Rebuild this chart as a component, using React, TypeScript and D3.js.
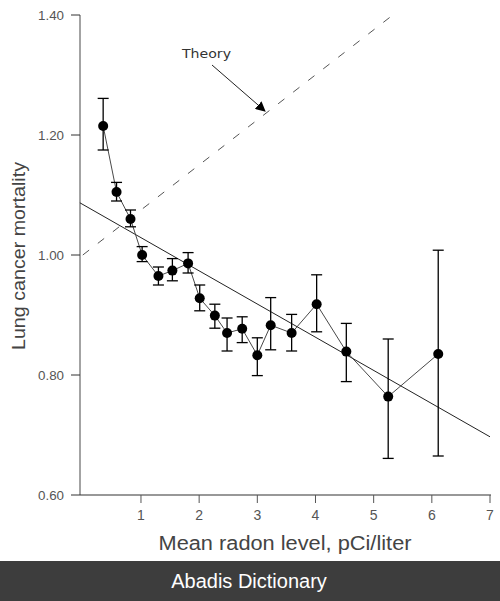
import React from "react";
import * as d3 from "d3";

const radon = [0.35, 0.58, 0.82, 1.02, 1.3, 1.54, 1.81, 2.01, 2.27, 2.48, 2.74, 3.0, 3.23, 3.59, 4.02, 4.53, 5.25, 6.11];
const mortality = [1.215, 1.105, 1.06, 1.0, 0.965, 0.974, 0.986, 0.928, 0.899, 0.87, 0.877, 0.833, 0.883, 0.87, 0.918, 0.839, 0.764, 0.835];
const errHigh = [1.261, 1.121, 1.075, 1.014, 0.98, 0.994, 1.004, 0.95, 0.918, 0.895, 0.897, 0.862, 0.929, 0.901, 0.967, 0.886, 0.86, 1.008];
const errLow = [1.175, 1.09, 1.047, 0.989, 0.95, 0.957, 0.97, 0.907, 0.878, 0.84, 0.854, 0.799, 0.842, 0.84, 0.872, 0.789, 0.661, 0.665];
const fitLine = [{ x: -0.05, y: 1.087 }, { x: 7.0, y: 0.697 }];
const theoryLine = [{ x: 0, y: 1.0 }, { x: 5.33, y: 1.4 }];
const yTicks = [0.6, 0.8, 1.0, 1.2, 1.4];
const xTicks = [1, 2, 3, 4, 5, 6, 7];

export default function App() {
  const x = d3.scaleLinear().domain([0, 7]).range([82.8, 490]);
  const y = d3.scaleLinear().domain([0.6, 1.4]).range([495, 15]);
  const line = d3.line<{ x: number; y: number }>().x(d => x(d.x)).y(d => y(d.y));
  const pts = radon.map((r, i) => ({ x: r, y: mortality[i] }));
  const font = "'Liberation Sans', Arial, sans-serif";
  return (
    <div style={{ position: "absolute", left: 0, top: 0, width: 500, height: 601 }}>
      <svg width={500} height={601} style={{ display: "block", background: "#fff" }}>
        <defs>
          <marker id="arr" viewBox="0 0 10 10" refX="9" refY="5" markerWidth="10" markerHeight="10" orient="auto" markerUnits="userSpaceOnUse">
            <path d="M0,0 L10,5 L0,10 z" fill="#000" />
          </marker>
        </defs>
        {/* axes */}
        <line x1={80} x2={80} y1={15} y2={495} stroke="#666" strokeWidth={1.2} />
        <line x1={80} x2={491} y1={495} y2={495} stroke="#333" strokeWidth={1.2} />
        {yTicks.map(t => (
          <g key={t}>
            <line x1={71} x2={80} y1={y(t)} y2={y(t)} stroke="#333" />
            <text x={64} y={y(t) + 5} textAnchor="end" fontFamily={font} fontSize={13} fill="#555" textLength={26} lengthAdjust="spacingAndGlyphs">{t.toFixed(2)}</text>
          </g>
        ))}
        {xTicks.map(t => (
          <g key={t}>
            <line x1={x(t)} x2={x(t)} y1={495} y2={503} stroke="#555" />
            <text x={x(t)} y={520} textAnchor="middle" fontFamily={font} fontSize={14} fill="#555">{t}</text>
          </g>
        ))}
        <text x={285} y={550} textAnchor="middle" fontFamily={font} fontSize={20} fill="#444" textLength={253} lengthAdjust="spacingAndGlyphs">Mean radon level, pCi/liter</text>
        <text transform="translate(25,256) rotate(-90)" textAnchor="middle" fontFamily={font} fontSize={19} fill="#444" textLength={188} lengthAdjust="spacingAndGlyphs">Lung cancer mortality</text>
        {/* theory dashed */}
        <path d={line(theoryLine) || ""} fill="none" stroke="#555" strokeWidth={1} strokeDasharray="8,11" />
        {/* fit line */}
        <path d={line(fitLine) || ""} fill="none" stroke="#222" strokeWidth={1} />
        {/* connecting line */}
        <path d={line(pts) || ""} fill="none" stroke="#333" strokeWidth={0.9} />
        {/* error bars */}
        {radon.map((r, i) => (
          <g key={i} stroke="#000" strokeWidth={1.3}>
            <line x1={x(r)} x2={x(r)} y1={y(errHigh[i])} y2={y(errLow[i])} />
            <line x1={x(r) - 5.5} x2={x(r) + 5.5} y1={y(errHigh[i])} y2={y(errHigh[i])} />
            <line x1={x(r) - 5.5} x2={x(r) + 5.5} y1={y(errLow[i])} y2={y(errLow[i])} />
          </g>
        ))}
        {pts.map((p, i) => (
          <circle key={i} cx={x(p.x)} cy={y(p.y)} r={5} fill="#000" />
        ))}
        {/* theory annotation */}
        <text x={182} y={58} fontFamily="'DejaVu Sans', sans-serif" fontSize={13} fill="#333" textLength={49} lengthAdjust="spacingAndGlyphs">Theory</text>
        <line x1={212} y1={65} x2={265} y2={111} stroke="#222" strokeWidth={1} markerEnd="url(#arr)" />
        {/* footer */}
        <rect x={0} y={561} width={500} height={40} fill="#3d3d3d" />
        <text x={249} y={588} textAnchor="middle" fontFamily={font} fontSize={20} fill="#fff">Abadis Dictionary</text>
      </svg>
    </div>
  );
}
